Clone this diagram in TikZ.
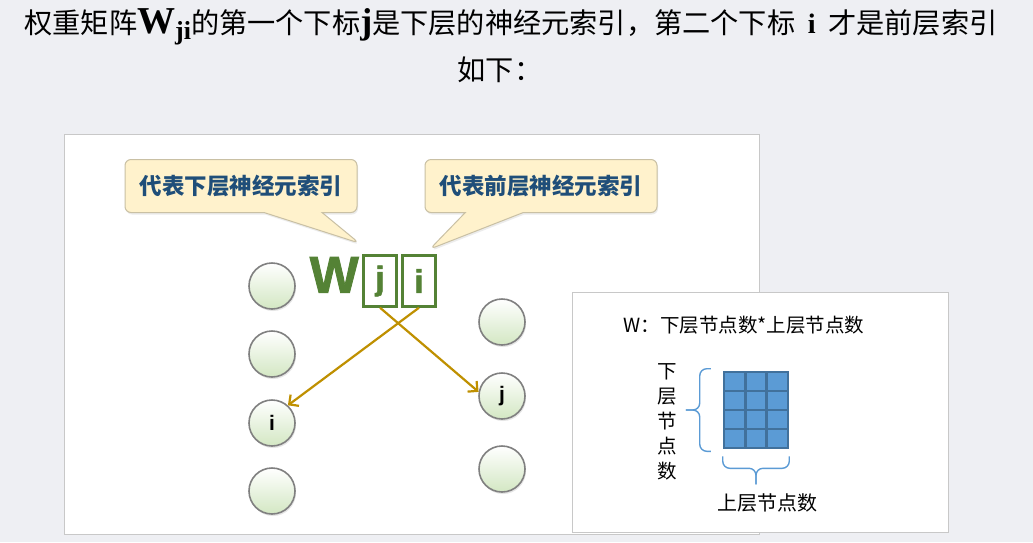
\documentclass[tikz,border=0pt]{standalone}
\usepackage{fontspec}
\newfontfamily\cjk{Noto Sans CJK SC}
\newfontfamily\tms{Liberation Serif}
\newfontfamily\arl{Liberation Sans}
\newfontfamily\heavy{Liberation Sans}[UprightFont={* Bold},FakeBold=1.6]
\usetikzlibrary{shapes.callouts,shadows,arrows.meta,calc}
\definecolor{bgcol}{HTML}{EEEFF3}
\definecolor{panelline}{HTML}{C8C8C8}
\definecolor{notefill}{HTML}{FFF2CC}
\definecolor{noteline}{HTML}{C9C0A4}
\definecolor{notetext}{HTML}{1F4E79}
\definecolor{wgreen}{HTML}{548235}
\definecolor{nrngreen}{HTML}{D3E7C3}
\definecolor{linkcol}{HTML}{BF9000}
\definecolor{cellfill}{HTML}{5B9BD5}
\definecolor{cellline}{HTML}{41719C}
\begin{document}
\begin{tikzpicture}[x=1pt,y=-1pt,
  panel/.style={draw=panelline,fill=white,line width=1pt},
  note/.style={rectangle callout,fill=notefill,draw=noteline,line width=1pt,rounded corners=6pt,
    minimum width=232pt,minimum height=53pt,callout pointer width=58pt,
    font=\cjk\bfseries\fontsize{22.5}{22.5}\selectfont,text=notetext,
    drop shadow={opacity=0.15,shadow xshift=1pt,shadow yshift=-2pt}},
  neuron/.style={circle,draw=gray,line width=1.6pt,minimum size=46pt,inner sep=0pt,
    top color=white,bottom color=nrngreen,font=\arl\bfseries\fontsize{21}{21}\selectfont,
    drop shadow={opacity=0.2,shadow xshift=1pt,shadow yshift=-2pt}},
  idxbox/.style={draw=wgreen,line width=2.4pt,minimum width=33pt,minimum height=51pt,inner sep=0pt,
    text=wgreen,font=\heavy\fontsize{33}{33}\selectfont},
  link/.style={draw=linkcol,line width=2.2pt,-{Straight Barb[length=7pt,width=14pt]}},
  cell/.style={draw=cellline,fill=cellfill,line width=2.6pt,minimum width=21.3pt,minimum height=19pt,inner sep=0pt},
  brc/.style={draw=cellfill,line width=1.4pt,rounded corners=7pt},
  hand/.style={font=\cjk\fontsize{19.5}{25}\selectfont}]
\useasboundingbox[fill=bgcol] (0,0) rectangle (1033,542);
% title
\node (title) at (511,27) {\cjk\fontsize{28.2}{28.2}\selectfont 权重矩阵{\tms\bfseries\fontsize{38}{38}\selectfont W\raisebox{-6pt}{\fontsize{26}{26}\selectfont ji}}的第一个下标{\tms\bfseries\fontsize{36}{36}\selectfont j}是下层的神经元索引，第二个下标\ \ {\tms\bfseries i}\ \ 才是前层索引};
\node (title2) at (500,70) {\cjk\fontsize{28.2}{28.2}\selectfont 如下：};
% panels
\path[panel] (64,134) rectangle (759,534);
\path[panel] (572,292) rectangle (948,532);
% callouts
\node[note,callout absolute pointer={(359,243)}] (noteA) at (241,186) {代表下层神经元索引};
\node[note,callout absolute pointer={(430,249)}] (noteB) at (541,186) {代表前层神经元索引};
% W_ji
\node[text=wgreen,font=\heavy\fontsize{52}{52}\selectfont,inner sep=0pt,anchor=south east] (W) at (359,293) {W};
\node[idxbox] (jbox) at (380,281) {j};
\node[idxbox] (ibox) at (419,281) {i};
% neurons
\node[neuron] (n1) at (272,286) {};
\node[neuron] (n2) at (272,354) {};
\node[neuron] (ni) at (272,423) {i};
\node[neuron] (n4) at (272,491) {};
\node[neuron] (m1) at (502,322) {};
\node[neuron] (nj) at (502,396) {j};
\node[neuron] (m3) at (502,469) {};
\draw[link] (jbox.south) -- (nj.170);
\draw[link] (ibox.south) -- (ni.48);
% weight matrix
\node[hand,anchor=west] (wlabel) at (620,325) {W：下层节点数*上层节点数};
\foreach \r in {0,...,3}
  \foreach \c in {0,1,2}
    \node[cell] (cell-\r-\c) at (734.7+21.3*\c,381.5+19*\r) {};
\coordinate (ltip) at ($(cell-0-0.north west)!0.5!(cell-3-0.south west)+(-37,0)$);
\coordinate (btip) at ($(cell-3-0.south west)!0.5!(cell-3-2.south east)+(0,35)$);
\draw[brc] ($(cell-0-0.north west)+(-12,-2)$) -| ($(ltip)+(14,0)$) -- (ltip);
\draw[brc] ($(cell-3-0.south west)+(-12,2)$) -| ($(ltip)+(14,0)$) -- (ltip);
\draw[brc] ($(cell-3-0.south west)+(0,7)$) |- ($(btip)+(0,-16)$) -- (btip);
\draw[brc] ($(cell-3-2.south east)+(0,7)$) |- ($(btip)+(0,-16)$) -- (btip);
\node[hand,align=center] (rows) at (667,422) {下\\层\\节\\点\\数};
\node[hand,font=\cjk\fontsize{20}{20}\selectfont] (cols) at (767,503) {上层节点数};
\end{tikzpicture}
\end{document}
